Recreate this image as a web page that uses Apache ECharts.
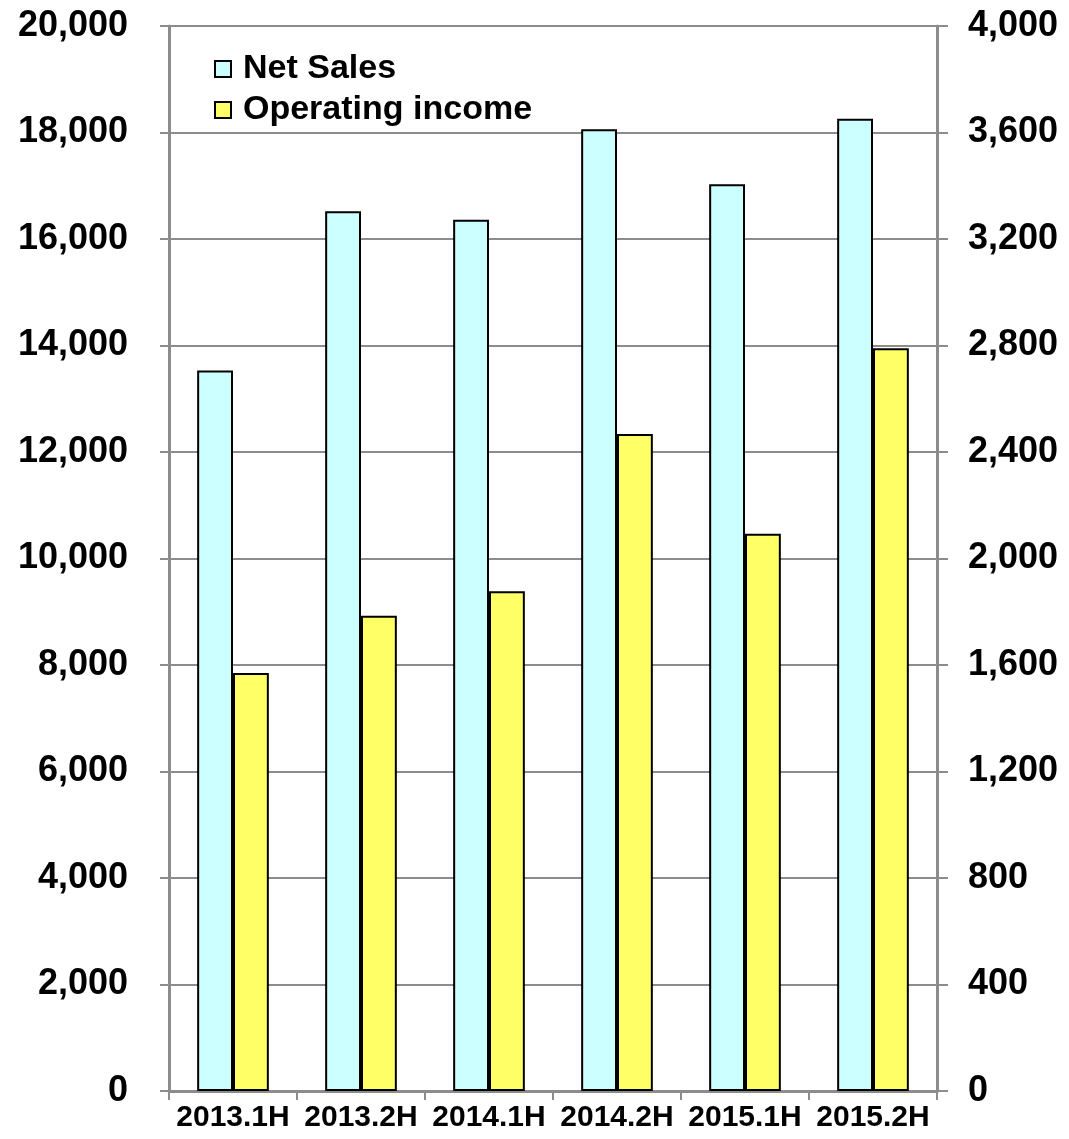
<!DOCTYPE html>
<html>
<head>
<meta charset="utf-8">
<title>Net Sales and Operating income</title>
<script src="https://cdn.jsdelivr.net/npm/echarts@6/dist/echarts.min.js"></script>
<style>
  html, body { margin: 0; padding: 0; background: #ffffff; }
  #chart { width: 1069px; height: 1139px; }
</style>
</head>
<body>
<div id="chart"></div>
<script>
// Half-year periods
const categories = ['2013.1H', '2013.2H', '2014.1H', '2014.2H', '2015.1H', '2015.2H'];
// Net Sales (left axis)
const netSales = [13530, 16520, 16360, 18060, 17030, 18260];
// Operating income (right axis)
const operatingIncome = [1570, 1785, 1877, 2468, 2093, 2790];

const labelFont = "'Liberation Sans', Arial, sans-serif";
const axisGray = '#8c8c8c';

const chart = echarts.init(document.getElementById('chart'), null, { renderer: 'canvas' });

chart.setOption({
  animation: false,
  backgroundColor: '#ffffff',
  grid: { left: 169, right: 132, top: 26, bottom: 48, containLabel: false },
  legend: {
    orient: 'vertical',
    left: 214,
    top: 52,
    padding: 0,
    itemWidth: 16,
    itemHeight: 16,
    itemGap: 7,
    icon: 'rect',
    textStyle: {
      fontFamily: labelFont,
      fontWeight: 'bold',
      fontSize: 34,
      lineHeight: 34,
      color: '#000000',
      padding: [0, 0, 0, 7]
    },
    itemStyle: { borderColor: '#000000', borderWidth: 2 },
    data: ['Net Sales', 'Operating income']
  },
  xAxis: {
    type: 'category',
    data: categories,
    boundaryGap: true,
    axisLine: { show: true, lineStyle: { color: axisGray, width: 3 } },
    axisTick: { show: true, length: 9, lineStyle: { color: axisGray, width: 2 } },
    axisLabel: {
      margin: 12,
      fontFamily: labelFont,
      fontWeight: 'bold',
      fontSize: 30,
      color: '#000000',
      interval: 0
    },
    splitLine: { show: false }
  },
  yAxis: [
    {
      type: 'value',
      position: 'left',
      min: 0,
      max: 20000,
      interval: 2000,
      axisLine: { show: true, lineStyle: { color: axisGray, width: 3 } },
      axisTick: { show: true, length: 9, lineStyle: { color: axisGray, width: 2 } },
      axisLabel: {
        margin: 41,
        fontFamily: labelFont,
        fontWeight: 'bold',
        fontSize: 36,
        color: '#000000',
        padding: [12, 0, 0, 0],
        formatter: v => v.toLocaleString('en-US')
      },
      splitLine: { show: true, lineStyle: { color: axisGray, width: 2 } }
    },
    {
      type: 'value',
      position: 'right',
      min: 0,
      max: 4000,
      interval: 400,
      axisLine: { show: true, lineStyle: { color: axisGray, width: 3 } },
      axisTick: { show: true, length: 11, lineStyle: { color: axisGray, width: 2 } },
      axisLabel: {
        margin: 31,
        fontFamily: labelFont,
        fontWeight: 'bold',
        fontSize: 36,
        color: '#000000',
        padding: [12, 0, 0, 0],
        formatter: v => v.toLocaleString('en-US')
      },
      splitLine: { show: false }
    }
  ],
  series: [
    {
      name: 'Net Sales',
      type: 'bar',
      yAxisIndex: 0,
      data: netSales,
      barGap: '0%',
      barCategoryGap: '44%',
      itemStyle: { color: '#ccffff', borderColor: '#000000', borderWidth: 2 }
    },
    {
      name: 'Operating income',
      type: 'bar',
      yAxisIndex: 1,
      data: operatingIncome,
      barGap: '0%',
      barCategoryGap: '44%',
      itemStyle: { color: '#ffff66', borderColor: '#000000', borderWidth: 2 }
    }
  ]
});
</script>
</body>
</html>
